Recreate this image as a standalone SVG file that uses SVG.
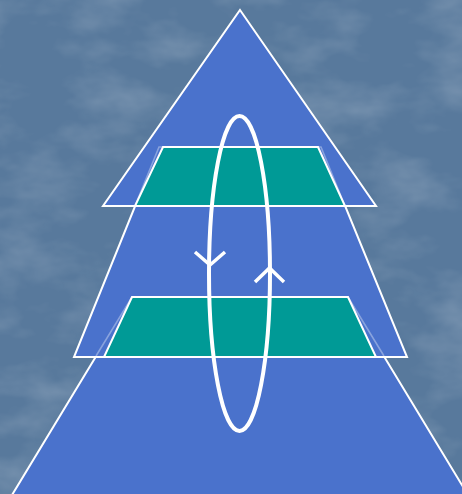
<svg xmlns="http://www.w3.org/2000/svg" width="462" height="494" viewBox="0 0 462 494">
  <defs>
    <filter id="tex" x="0" y="0" width="100%" height="100%">
      <feTurbulence type="fractalNoise" baseFrequency="0.014 0.024" numOctaves="4" seed="11"/>
      <feColorMatrix values="0 0 0 0 1  0 0 0 0 1  0 0 0 0 1  0 0 0 0.9 -0.38"/>
    </filter>
    <style>
      .tier { fill: #4a72cc; stroke: #ffffff; stroke-width: 2; stroke-linejoin: miter; }
      .teal { fill: #009a96; stroke: #ffffff; stroke-width: 2; }
      .ghost { fill: none; stroke: #ffffff; stroke-width: 1.6; stroke-opacity: 0.35; }
      .loop { fill: none; stroke: #ffffff; stroke-width: 4; }
      .head { fill: none; stroke: #ffffff; stroke-width: 3.5; stroke-linecap: butt; stroke-linejoin: miter; }
    </style>
  </defs>

  <rect x="0" y="0" width="462" height="494" fill="#58799c"/>
  <rect x="0" y="0" width="462" height="494" filter="url(#tex)" opacity="0.4"/>

  <g id="bottom-tier">
    <polygon class="tier" points="132,297 348,297 468,495 12,495"/>
  </g>
  <g id="middle-tier">
    <polygon class="tier" points="159,147 321,147 407,357 74,357"/>
    <polyline class="ghost" points="96,356 132,297 348,297 384,356"/>
  </g>
  <g id="top-tier">
    <polygon class="tier" points="240,10 376,206 103,206"/>
    <polyline class="ghost" points="135,206 159,147 321,147 345,206"/>
  </g>
  <g id="upper-band">
    <polygon class="teal" points="163,147 318,147 345,206 135,206"/>
  </g>
  <g id="lower-band">
    <polygon class="teal" points="132,297 348,297 376,357 104,357"/>
  </g>

  <g id="connectors">
    <ellipse class="loop" cx="239.5" cy="273.5" rx="30.5" ry="157.5"/>
    <polyline class="head" points="195,252 210,265 225,252"/>
    <polyline class="head" points="255,282 269.5,268 284,282"/>
  </g>
</svg>
